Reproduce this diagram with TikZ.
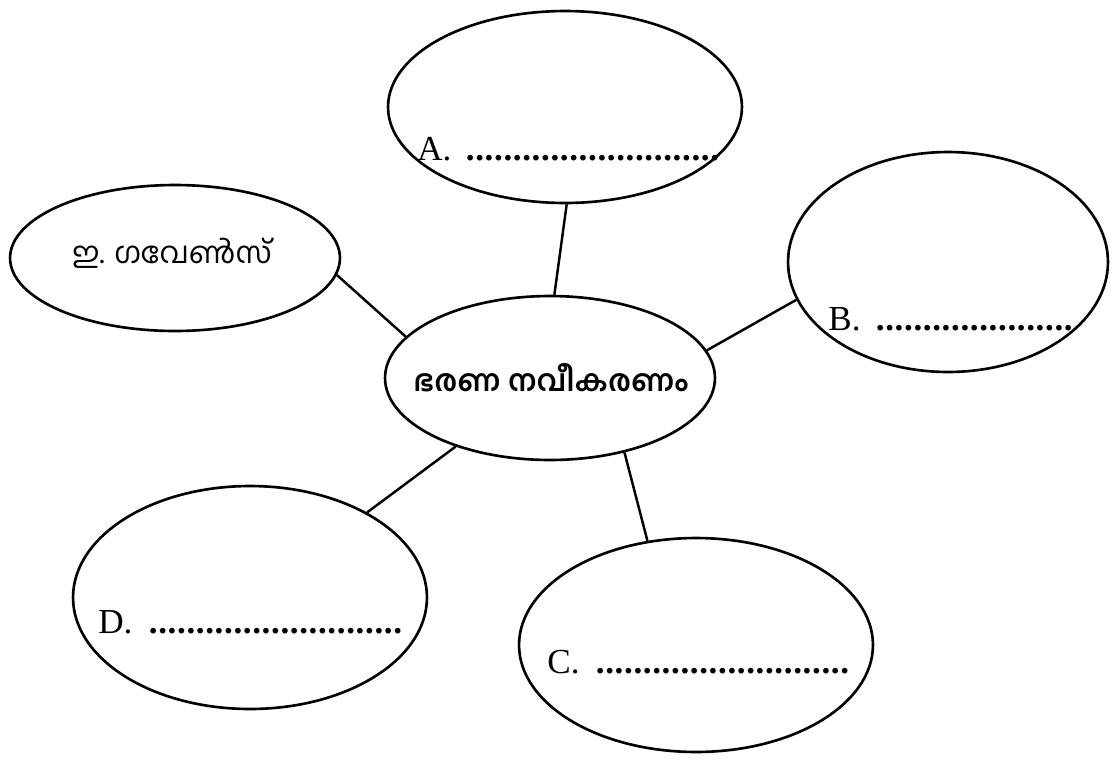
\documentclass[tikz,border=0pt]{standalone}
\usepackage{fontspec}
\setmainfont{Liberation Serif}
\newfontfamily\mlfont[Script=Malayalam]{Hind Kochi}
\usetikzlibrary{shapes.geometric}
\newcommand\dotrow[1]{\hbox to \dimexpr0.188cm*#1\relax{\cleaders\hbox to 0.188cm{\hss\textbf{.}\hss}\hfill}}
\newcommand\blankline[3]{\makebox[#2][l]{#1}\dotrow{#3}}
\begin{document}
\begin{tikzpicture}[x=0.02cm,y=-0.02cm,
  oval/.style={ellipse, draw, line width=1.5pt, inner sep=0pt},
  link/.style={line width=1.4pt},
  lbl/.style={anchor=base west, inner sep=0pt, font=\fontsize{20}{22}\selectfont},
  ml/.style={inner sep=0pt, font=\mlfont\fontsize{17}{20}\selectfont}]
\path[use as bounding box] (0,0) rectangle (1112,765);
% ovals
\node[oval, minimum width=7.08cm, minimum height=3.84cm] (A) at (565,107) {};
\node[oval, minimum width=6.6cm, minimum height=2.92cm] (L) at (175,258) {};
\node[oval, minimum width=6.4cm, minimum height=4.4cm] (B) at (948,262) {};
\node[oval, minimum width=6.6cm, minimum height=3.28cm] (M) at (550,378) {};
\node[oval, minimum width=7.08cm, minimum height=4.46cm] (D) at (250,597.5) {};
\node[oval, minimum width=7.08cm, minimum height=4.28cm] (C) at (696,645) {};
% texts
\node[ml] (Lt) at (172,253) {ഇ. ഗവേൺസ്};
\node[ml, font=\mlfont\bfseries\fontsize{17}{20}\selectfont] (Mt) at (551,378) {ഭരണ നവീകരണം};
\node[lbl] (At) at (417,160) {\blankline{A.}{0.966cm}{27}};
\node[lbl] (Bt) at (828,330) {\blankline{B.}{0.946cm}{21}};
\node[lbl] (Ct) at (547,673) {\blankline{C.}{0.966cm}{27}};
\node[lbl] (Dt) at (98,633) {\blankline{D.}{1.006cm}{27}};
% connectors
\draw[link] (A.-89.4) -- (M.87);
\draw[link] (M.10.1) -- (B.194.5);
\draw[link] (L.-6.9) -- (M.164.6);
\draw[link] (M.216.2) -- (D.36.5);
\draw[link] (M.-45.4) -- (C.115.5);
\end{tikzpicture}
\end{document}
